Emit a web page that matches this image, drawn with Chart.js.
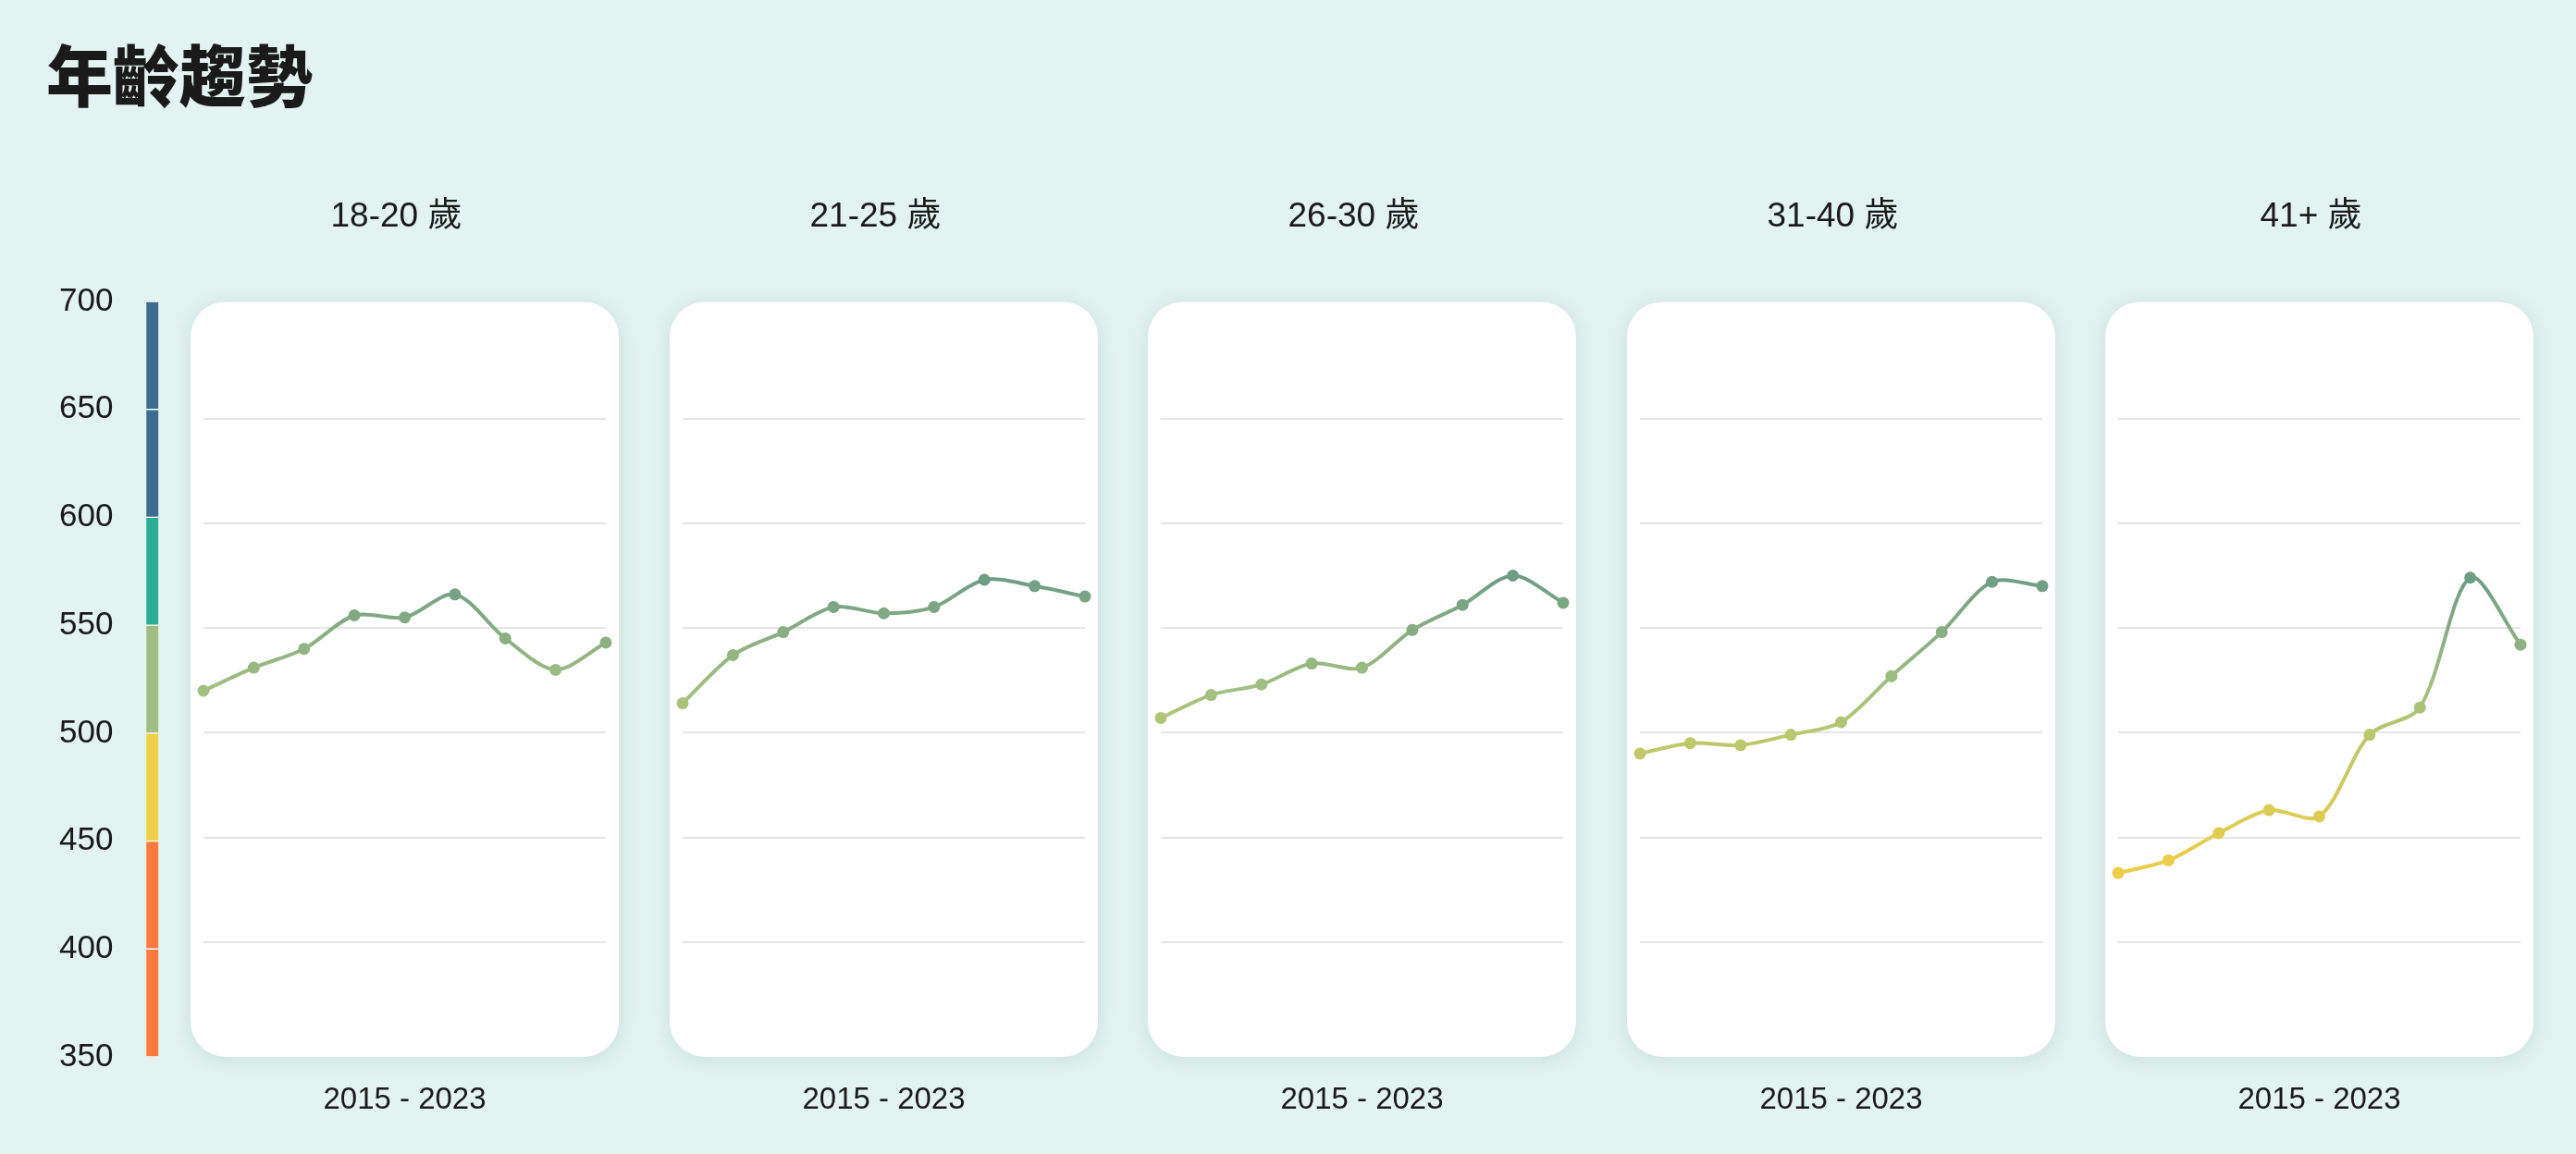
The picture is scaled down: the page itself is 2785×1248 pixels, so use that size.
<!DOCTYPE html>
<html lang="zh-Hant">
<head>
<meta charset="utf-8">
<title>年齡趨勢</title>
<script src="https://cdn.jsdelivr.net/npm/chart.js@4.4.1/dist/chart.umd.min.js"></script>
<style>
  html, body { margin: 0; padding: 0; }
  body {
    width: 2785px; height: 1248px; position: relative; overflow: hidden;
    background: #e3f3ef; color: #1a1a1a;
    font-family: "Liberation Sans", "Noto Sans CJK TC", sans-serif;
  }
  h1 {
    position: absolute; left: 50px; top: 42px; margin: 0;
    font-family: "Noto Sans CJK TC", sans-serif; font-weight: 900;
    font-size: 72px; line-height: 72px;
  }
  canvas { position: absolute; }
</style>
</head>
<body>
<h1>年齡趨勢</h1>
<canvas id="scaleBar" width="205" height="897" style="left:0;top:286px"></canvas>
<div id="panels"></div>

<script>
// ---- data ----
const years = ['2015', '2016', '2017', '2018', '2019', '2020', '2021', '2022', '2023'];
const ageGroups = ['18-20 歲', '21-25 歲', '26-30 歲', '31-40 歲', '41+ 歲'];
const periodLabel = '2015 - 2023';

const scores18to20 = [520, 531, 540, 556, 555, 566, 545, 530, 543];
const scores21to25 = [514, 537, 548, 560, 557, 560, 573, 570, 565];
const scores26to30 = [507, 518, 523, 533, 531, 549, 561, 575, 562];
const scores31to40 = [490, 495, 494, 499, 505, 527, 548, 572, 570];
const scores41plus = [433, 439, 452, 463, 460, 499, 512, 574, 542];
const groupScores = [scores18to20, scores21to25, scores26to30, scores31to40, scores41plus];

const scaleMin = 350;
const scaleMax = 700;
const scaleStep = 50;

// colour key on the left
const bandEdges = [350, 400, 450, 500, 550, 600, 650, 700];
const bandColors = ['#fe793e', '#fe793e', '#efce49', '#a1bd83', '#2bac94', '#3b6d91', '#3b6d91'];

// line colour by score
const colorValues = [430, 460, 500, 520, 545, 575];
const colorStops = ['#f0cd46', '#dccc55', '#b8c76e', '#a2c081', '#8cb083', '#6e9c86'];

// ---- helpers ----
Chart.defaults.font.family = '"Liberation Sans", "Noto Sans CJK TC", sans-serif';
Chart.defaults.color = '#1a1a1a';
Chart.defaults.animation = false;

function hexToRgb(h) {
    const n = parseInt(h.slice(1), 16);
    return [n >> 16 & 255, n >> 8 & 255, n & 255];
}

function scoreColor(v) {
    if (v <= colorValues[0]) return colorStops[0];
    for (let i = 1; i < colorValues.length; i++) {
        if (v <= colorValues[i]) {
            const t = (v - colorValues[i - 1]) / (colorValues[i] - colorValues[i - 1]);
            const a = hexToRgb(colorStops[i - 1]), b = hexToRgb(colorStops[i]);
            return 'rgb(' + a.map((c, k) => Math.round(c + (b[k] - c) * t)).join(',') + ')';
        }
    }
    return colorStops[colorStops.length - 1];
}

function lineGradient(context) {
    const { ctx, chartArea, scales } = context.chart;
    if (!chartArea) return colorStops[0];
    const y0 = scales.y.getPixelForValue(scaleMin);
    const y1 = scales.y.getPixelForValue(scaleMax);
    const g = ctx.createLinearGradient(0, y0, 0, y1);
    colorValues.forEach((v, i) => g.addColorStop((v - scaleMin) / (scaleMax - scaleMin), colorStops[i]));
    return g;
}

// white rounded card behind each small chart
const cardPlugin = {
    id: 'card',
    beforeDraw(chart) {
        const { ctx, chartArea: a } = chart;
        ctx.save();
        ctx.shadowColor = 'rgba(40, 95, 85, 0.13)';
        ctx.shadowBlur = 22;
        ctx.shadowOffsetY = 3;
        ctx.fillStyle = '#ffffff';
        ctx.beginPath();
        ctx.roundRect(a.left - 14, a.top - 13, a.width + 28, a.height + 24, 38);
        ctx.fill();
        ctx.restore();
    }
};

// ---- colour key with value axis ----
new Chart(document.getElementById('scaleBar'), {
    type: 'bar',
    data: {
        labels: [''],
        datasets: bandColors.map((c, i) => ({
            data: [[bandEdges[i], bandEdges[i + 1]]],
            backgroundColor: c,
            borderColor: '#ffffff',
            borderWidth: { top: 1, bottom: 1, left: 0, right: 0 },
            borderSkipped: false,
            barThickness: 13,
            grouped: false
        }))
    },
    options: {
        responsive: false,
        layout: { padding: { left: 62, right: 6, top: 40, bottom: 40 } },
        plugins: { legend: { display: false }, tooltip: { enabled: false } },
        scales: {
            x: { display: false },
            y: {
                min: scaleMin, max: scaleMax,
                grid: { display: false, drawTicks: false },
                border: { display: false },
                ticks: { stepSize: scaleStep, padding: 8, font: { size: 35 }, color: '#1a1a1a' }
            }
        }
    }
});

// ---- small multiples ----
const panels = document.getElementById('panels');
ageGroups.forEach((group, i) => {
    const cv = document.createElement('canvas');
    cv.width = 517;
    cv.height = 1040;
    cv.style.left = (179 + i * 517.5) + 'px';
    cv.style.top = '190px';
    panels.appendChild(cv);

    new Chart(cv, {
        type: 'line',
        data: {
            labels: years,
            datasets: [{
                data: groupScores[i],
                borderColor: lineGradient,
                borderWidth: 4,
                tension: 0.3,
                pointRadius: 6.5,
                pointBorderWidth: 0,
                pointBackgroundColor: ctx => scoreColor(ctx.raw),
                clip: false
            }]
        },
        options: {
            responsive: false,
            layout: { padding: { left: 23, right: 41, top: 0, bottom: 0 } },
            plugins: {
                legend: { display: false },
                tooltip: { enabled: false },
                title: {
                    display: true,
                    text: group,
                    color: '#1a1a1a',
                    font: { size: 37, weight: 'normal', lineHeight: 1.2 },
                    padding: { top: 23, bottom: 82 }
                }
            },
            scales: {
                x: {
                    grid: { display: false, drawTicks: false },
                    border: { display: false },
                    ticks: { display: false },
                    title: {
                        display: true,
                        text: periodLabel,
                        color: '#1a1a1a',
                        font: { size: 33, lineHeight: 1.2 },
                        padding: { top: 38.2, bottom: 20.2 }
                    }
                },
                y: {
                    min: scaleMin, max: scaleMax,
                    afterFit: scale => { scale.width = 18; },
                    grid: {
                        drawTicks: false,
                        lineWidth: 2,
                        color: ctx => (ctx.tick && (ctx.tick.value === scaleMin || ctx.tick.value === scaleMax)) ? 'rgba(0,0,0,0)' : '#e5e5e5'
                    },
                    border: { display: false },
                    ticks: { display: false, stepSize: scaleStep }
                }
            }
        },
        plugins: [cardPlugin]
    });
});
</script>
</body>
</html>
